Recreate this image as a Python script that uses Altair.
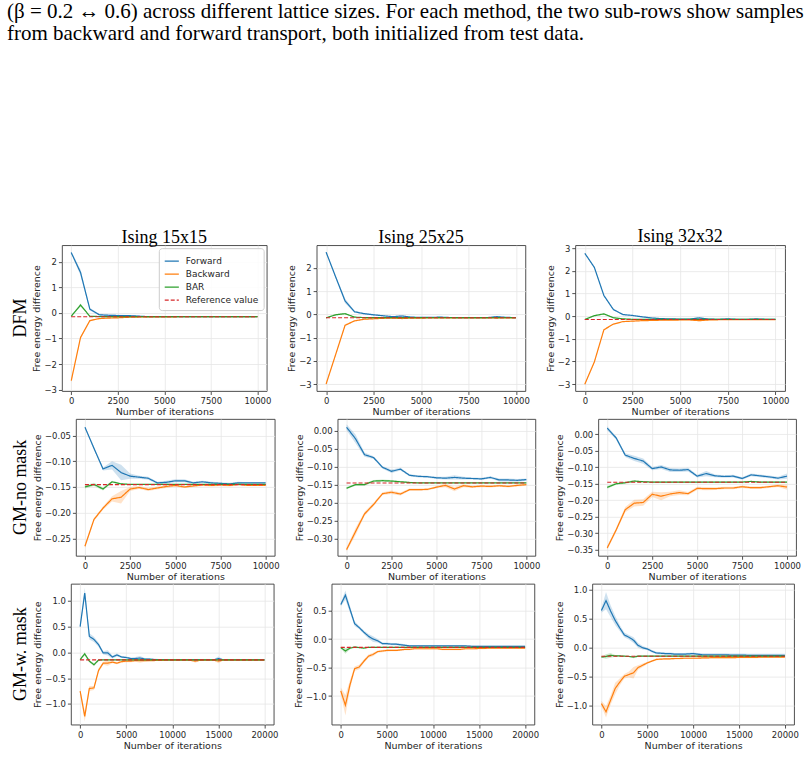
import altair as alt
import pandas as pd

# ---------------------------------------------------------------- data
iters_10k = list(range(0, 10001, 500))
iters_20k = list(range(0, 20001, 500))
reference_value = -0.1455

series_names = ["Forward", "Backward", "BAR", "Reference value"]
series_colors = ["#1f77b4", "#ff7f0e", "#2ca02c", "#d62728"]
series_dash = [[1, 0], [1, 0], [1, 0], [4, 2]]

column_titles = ["Ising 15x15", "Ising 25x25", "Ising 32x32"]
row_titles = ["DFM", "GM-no mask", "GM-w. mask"]

caption_lines = [
    "(\u03b2 = 0.2 \u2194 0.6) across different lattice sizes. For each method, the two sub-rows show samples",
    "from backward and forward transport, both initialized from test data.",
]

# DFM, Ising 15x15
dfm15_fwd = [2.36, 1.58, 0.15, -0.07, -0.09, -0.10, -0.10, -0.12, -0.14, -0.14, -0.14,
             -0.14, -0.145, -0.145, -0.145, -0.145, -0.145, -0.145, -0.145, -0.145, -0.145]
dfm15_fwd_sd = [0.04, 0.12, 0.05, 0.03, 0.03, 0.03, 0.02, 0.02, 0.01, 0.01, 0.01,
                0.01, 0.01, 0.01, 0.01, 0.01, 0.01, 0.01, 0.01, 0.01, 0.01]
dfm15_bwd = [-2.65, -0.96, -0.30, -0.22, -0.20, -0.19, -0.17, -0.16, -0.155, -0.15, -0.15,
             -0.15, -0.148, -0.147, -0.146, -0.146, -0.146, -0.146, -0.145, -0.145, -0.145]
dfm15_bwd_sd = [0.08, 0.05, 0.03, 0.02, 0.02, 0.02, 0.01, 0.01, 0.01, 0.01, 0.01,
                0.01, 0.01, 0.01, 0.01, 0.01, 0.01, 0.01, 0.01, 0.01, 0.01]
dfm15_bar = [-0.13, 0.31, -0.13, -0.14, -0.145, -0.145, -0.145, -0.145, -0.145, -0.145, -0.145,
             -0.145, -0.145, -0.145, -0.145, -0.145, -0.145, -0.145, -0.145, -0.145, -0.145]
dfm15_bar_sd = [0.03, 0.06, 0.02, 0.01, 0.01, 0.01, 0.01, 0.01, 0.01, 0.01, 0.01,
                0.01, 0.01, 0.01, 0.01, 0.01, 0.01, 0.01, 0.01, 0.01, 0.01]

# DFM, Ising 25x25
dfm25_fwd = [2.68, 1.62, 0.58, 0.11, 0.03, -0.02, -0.06, -0.10, -0.07, -0.12, -0.13,
             -0.13, -0.12, -0.135, -0.14, -0.14, -0.14, -0.14, -0.10, -0.13, -0.14]
dfm25_fwd_sd = [0.03, 0.05, 0.10, 0.04, 0.03, 0.03, 0.02, 0.02, 0.03, 0.02, 0.01,
                0.01, 0.02, 0.01, 0.01, 0.01, 0.01, 0.01, 0.03, 0.01, 0.01]
dfm25_bwd = [-3.00, -1.74, -0.47, -0.28, -0.21, -0.19, -0.17, -0.16, -0.18, -0.16, -0.16,
             -0.155, -0.15, -0.15, -0.15, -0.15, -0.15, -0.15, -0.16, -0.15, -0.15]
dfm25_bwd_sd = [0.05, 0.04, 0.04, 0.03, 0.02, 0.02, 0.02, 0.01, 0.02, 0.01, 0.01,
                0.01, 0.01, 0.01, 0.01, 0.01, 0.01, 0.01, 0.01, 0.01, 0.01]
dfm25_bar = [-0.15, -0.02, 0.03, -0.12, -0.14, -0.145, -0.145, -0.145, -0.145, -0.145, -0.145,
             -0.145, -0.145, -0.145, -0.145, -0.145, -0.145, -0.145, -0.145, -0.145, -0.145]
dfm25_bar_sd = [0.02, 0.03, 0.03, 0.02, 0.01, 0.01, 0.01, 0.01, 0.01, 0.01, 0.01,
                0.01, 0.01, 0.01, 0.01, 0.01, 0.01, 0.01, 0.01, 0.01, 0.01]

# DFM, Ising 32x32
dfm32_fwd = [2.77, 2.15, 0.91, 0.29, 0.07, 0.03, -0.03, -0.08, -0.11, -0.12, -0.13,
             -0.13, -0.08, -0.13, -0.14, -0.12, -0.14, -0.14, -0.12, -0.14, -0.14]
dfm32_fwd_sd = [0.03, 0.04, 0.04, 0.03, 0.02, 0.02, 0.02, 0.02, 0.02, 0.02, 0.01,
                0.01, 0.04, 0.01, 0.01, 0.02, 0.01, 0.01, 0.02, 0.01, 0.01]
dfm32_bwd = [-3.00, -2.02, -0.60, -0.35, -0.24, -0.22, -0.20, -0.19, -0.18, -0.18, -0.17,
             -0.17, -0.20, -0.17, -0.16, -0.16, -0.16, -0.16, -0.16, -0.16, -0.16]
dfm32_bwd_sd = [0.04, 0.04, 0.03, 0.02, 0.02, 0.02, 0.01, 0.01, 0.01, 0.01, 0.01,
                0.01, 0.02, 0.01, 0.01, 0.01, 0.01, 0.01, 0.01, 0.01, 0.01]
dfm32_bar = [-0.15, 0.02, 0.10, -0.07, -0.12, -0.14, -0.145, -0.145, -0.145, -0.145, -0.145,
             -0.145, -0.145, -0.145, -0.145, -0.145, -0.145, -0.145, -0.145, -0.145, -0.145]
dfm32_bar_sd = [0.02, 0.03, 0.03, 0.02, 0.01, 0.01, 0.01, 0.01, 0.01, 0.01, 0.01,
                0.01, 0.01, 0.01, 0.01, 0.01, 0.01, 0.01, 0.01, 0.01, 0.01]

# GM-no mask, Ising 15x15
gmn15_fwd = [-0.034, -0.075, -0.115, -0.108, -0.122, -0.129, -0.131, -0.133, -0.142, -0.141, -0.138,
             -0.138, -0.142, -0.140, -0.142, -0.143, -0.144, -0.142, -0.142, -0.142, -0.142]
gmn15_fwd_sd = [0.002, 0.003, 0.003, 0.008, 0.015, 0.005, 0.003, 0.003, 0.002, 0.003, 0.003,
                0.003, 0.002, 0.002, 0.002, 0.002, 0.002, 0.002, 0.001, 0.001, 0.001]
gmn15_bwd = [-0.265, -0.213, -0.191, -0.173, -0.170, -0.154, -0.151, -0.155, -0.152, -0.149, -0.147,
             -0.150, -0.148, -0.146, -0.147, -0.146, -0.147, -0.145, -0.147, -0.147, -0.147]
gmn15_bwd_sd = [0.004, 0.003, 0.003, 0.005, 0.012, 0.004, 0.003, 0.003, 0.003, 0.003, 0.002,
                0.002, 0.002, 0.002, 0.002, 0.002, 0.002, 0.002, 0.001, 0.001, 0.001]
gmn15_bar = [-0.150, -0.145, -0.154, -0.140, -0.144, -0.145, -0.145, -0.145, -0.145, -0.145, -0.145,
             -0.145, -0.145, -0.145, -0.145, -0.145, -0.145, -0.145, -0.145, -0.145, -0.145]
gmn15_bar_sd = [0.003, 0.003, 0.003, 0.002, 0.001, 0.001, 0.001, 0.001, 0.001, 0.001, 0.001,
                0.001, 0.001, 0.001, 0.001, 0.001, 0.001, 0.001, 0.001, 0.001, 0.001]

# GM-no mask, Ising 25x25
gmn25_fwd = [0.009, -0.023, -0.067, -0.075, -0.102, -0.113, -0.107, -0.124, -0.127, -0.128, -0.131,
             -0.132, -0.130, -0.132, -0.133, -0.134, -0.130, -0.137, -0.137, -0.138, -0.136]
gmn25_fwd_sd = [0.008, 0.012, 0.006, 0.004, 0.004, 0.005, 0.004, 0.003, 0.003, 0.003, 0.003,
                0.004, 0.006, 0.004, 0.003, 0.003, 0.003, 0.004, 0.004, 0.004, 0.003]
gmn25_bwd = [-0.330, -0.280, -0.231, -0.205, -0.175, -0.171, -0.176, -0.164, -0.164, -0.163, -0.157,
             -0.152, -0.162, -0.153, -0.156, -0.154, -0.155, -0.153, -0.155, -0.152, -0.150]
gmn25_bwd_sd = [0.005, 0.010, 0.006, 0.005, 0.004, 0.005, 0.004, 0.003, 0.003, 0.003, 0.003,
                0.005, 0.006, 0.004, 0.003, 0.003, 0.003, 0.003, 0.003, 0.003, 0.003]
gmn25_bar = [-0.160, -0.150, -0.150, -0.140, -0.139, -0.140, -0.142, -0.144, -0.145, -0.145, -0.145,
             -0.145, -0.145, -0.145, -0.145, -0.145, -0.145, -0.145, -0.145, -0.145, -0.145]
gmn25_bar_sd = [0.003, 0.003, 0.003, 0.003, 0.003, 0.003, 0.002, 0.002, 0.001, 0.001, 0.001,
                0.001, 0.001, 0.001, 0.001, 0.001, 0.001, 0.001, 0.001, 0.001, 0.001]

# GM-no mask, Ising 32x32
gmn32_fwd = [0.019, -0.011, -0.063, -0.073, -0.081, -0.104, -0.099, -0.108, -0.109, -0.107, -0.127,
             -0.119, -0.126, -0.128, -0.127, -0.134, -0.123, -0.126, -0.129, -0.133, -0.127]
gmn32_fwd_sd = [0.006, 0.005, 0.006, 0.008, 0.008, 0.005, 0.006, 0.006, 0.005, 0.006, 0.004,
                0.008, 0.004, 0.004, 0.004, 0.004, 0.004, 0.004, 0.004, 0.004, 0.008]
gmn32_bwd = [-0.345, -0.290, -0.229, -0.209, -0.207, -0.182, -0.188, -0.181, -0.177, -0.180, -0.164,
             -0.165, -0.165, -0.163, -0.163, -0.159, -0.162, -0.162, -0.159, -0.156, -0.160]
gmn32_bwd_sd = [0.006, 0.006, 0.008, 0.010, 0.010, 0.008, 0.012, 0.007, 0.007, 0.005, 0.005,
                0.005, 0.004, 0.004, 0.004, 0.004, 0.004, 0.004, 0.004, 0.004, 0.008]
gmn32_bar = [-0.161, -0.150, -0.147, -0.142, -0.144, -0.145, -0.145, -0.145, -0.145, -0.145, -0.145,
             -0.145, -0.145, -0.145, -0.145, -0.145, -0.143, -0.145, -0.145, -0.145, -0.145]
gmn32_bar_sd = [0.004, 0.003, 0.003, 0.003, 0.002, 0.002, 0.002, 0.002, 0.002, 0.002, 0.002,
                0.002, 0.002, 0.002, 0.002, 0.002, 0.002, 0.002, 0.002, 0.002, 0.002]

# GM-w. mask, Ising 15x15
gmw15_fwd = [0.50, 1.15, 0.31, 0.25, 0.15, -0.01, -0.01, -0.09, -0.05, -0.09, -0.10,
             -0.12, -0.12, -0.11, -0.13, -0.13, -0.14, -0.14, -0.14, -0.145, -0.145,
             -0.145, -0.145, -0.145, -0.145, -0.145, -0.145, -0.145, -0.145, -0.145, -0.12,
             -0.145, -0.145, -0.145, -0.145, -0.145, -0.145, -0.145, -0.145, -0.145, -0.145]
gmw15_fwd_sd = [0.03, 0.10, 0.06, 0.05, 0.04, 0.03, 0.05, 0.03, 0.03, 0.02, 0.02,
                0.02, 0.03, 0.04, 0.02, 0.02, 0.02, 0.01, 0.01, 0.01, 0.01,
                0.01, 0.01, 0.01, 0.01, 0.01, 0.01, 0.01, 0.01, 0.01, 0.04,
                0.01, 0.01, 0.01, 0.01, 0.01, 0.01, 0.01, 0.01, 0.01, 0.01]
gmw15_bwd = [-0.75, -1.24, -0.70, -0.69, -0.35, -0.21, -0.21, -0.19, -0.21, -0.18, -0.17,
             -0.17, -0.16, -0.16, -0.16, -0.16, -0.16, -0.155, -0.155, -0.15, -0.15,
             -0.15, -0.15, -0.15, -0.155, -0.17, -0.155, -0.15, -0.15, -0.15, -0.17,
             -0.15, -0.15, -0.15, -0.15, -0.15, -0.15, -0.15, -0.15, -0.15, -0.15]
gmw15_bwd_sd = [0.04, 0.10, 0.05, 0.04, 0.04, 0.03, 0.05, 0.02, 0.02, 0.02, 0.02,
                0.02, 0.02, 0.04, 0.02, 0.01, 0.01, 0.01, 0.01, 0.01, 0.01,
                0.01, 0.01, 0.01, 0.01, 0.03, 0.01, 0.01, 0.01, 0.01, 0.04,
                0.01, 0.01, 0.01, 0.01, 0.01, 0.01, 0.01, 0.01, 0.01, 0.01]
gmw15_bar = [-0.14, -0.03, -0.17, -0.24, -0.15, -0.145, -0.145, -0.145, -0.145, -0.145, -0.145,
             -0.145, -0.145, -0.145, -0.145, -0.145, -0.145, -0.145, -0.145, -0.145, -0.145,
             -0.145, -0.145, -0.145, -0.145, -0.145, -0.145, -0.145, -0.145, -0.145, -0.145,
             -0.145, -0.145, -0.145, -0.145, -0.145, -0.145, -0.145, -0.145, -0.145, -0.145]
gmw15_bar_sd = [0.02, 0.03, 0.02, 0.03, 0.02, 0.01, 0.01, 0.01, 0.01, 0.01, 0.01,
                0.01, 0.01, 0.01, 0.01, 0.01, 0.01, 0.01, 0.01, 0.01, 0.01,
                0.01, 0.01, 0.01, 0.01, 0.01, 0.01, 0.01, 0.01, 0.01, 0.01,
                0.01, 0.01, 0.01, 0.01, 0.01, 0.01, 0.01, 0.01, 0.01, 0.01]

# GM-w. mask, Ising 25x25
gmw25_fwd = [0.605, 0.77, 0.52, 0.27, 0.20, 0.12, 0.05, 0.00, -0.03, -0.08, -0.08,
             -0.09, -0.09, -0.10, -0.11, -0.12, -0.12, -0.12, -0.12, -0.12, -0.12,
             -0.12, -0.12, -0.12, -0.12, -0.12, -0.12, -0.12, -0.125, -0.13, -0.13,
             -0.13, -0.13, -0.13, -0.13, -0.13, -0.13, -0.13, -0.13, -0.13, -0.13]
gmw25_fwd_sd = [0.03, 0.08, 0.06, 0.04, 0.03, 0.03, 0.04, 0.05, 0.03, 0.02, 0.02,
                0.02, 0.02, 0.02, 0.015, 0.015, 0.015, 0.015, 0.015, 0.015, 0.015,
                0.015, 0.015, 0.015, 0.015, 0.015, 0.015, 0.015, 0.015, 0.015, 0.015,
                0.015, 0.015, 0.015, 0.015, 0.015, 0.015, 0.015, 0.015, 0.015, 0.015]
gmw25_bwd = [-0.91, -1.16, -0.80, -0.52, -0.49, -0.39, -0.30, -0.27, -0.22, -0.21, -0.20,
             -0.20, -0.20, -0.19, -0.18, -0.18, -0.17, -0.17, -0.17, -0.17, -0.17,
             -0.17, -0.18, -0.18, -0.18, -0.18, -0.18, -0.17, -0.17, -0.17, -0.165,
             -0.165, -0.16, -0.16, -0.16, -0.16, -0.16, -0.16, -0.16, -0.16, -0.16]
gmw25_bwd_sd = [0.06, 0.18, 0.08, 0.04, 0.04, 0.03, 0.03, 0.03, 0.02, 0.02, 0.02,
                0.015, 0.015, 0.015, 0.015, 0.015, 0.015, 0.015, 0.015, 0.015, 0.015,
                0.015, 0.015, 0.015, 0.015, 0.015, 0.015, 0.015, 0.015, 0.015, 0.015,
                0.015, 0.015, 0.015, 0.015, 0.015, 0.015, 0.015, 0.015, 0.015, 0.015]
gmw25_bar = [-0.15, -0.21, -0.16, -0.14, -0.15, -0.16, -0.145, -0.145, -0.145, -0.145, -0.145,
             -0.145, -0.145, -0.145, -0.145, -0.145, -0.145, -0.145, -0.145, -0.145, -0.145,
             -0.145, -0.145, -0.145, -0.145, -0.145, -0.145, -0.145, -0.145, -0.145, -0.145,
             -0.145, -0.145, -0.145, -0.145, -0.145, -0.145, -0.145, -0.145, -0.145, -0.145]
gmw25_bar_sd = [0.015, 0.05, 0.02, 0.015, 0.01, 0.01, 0.01, 0.01, 0.01, 0.01, 0.01,
                0.01, 0.01, 0.01, 0.01, 0.01, 0.01, 0.01, 0.01, 0.01, 0.01,
                0.01, 0.01, 0.01, 0.01, 0.01, 0.01, 0.01, 0.01, 0.01, 0.01,
                0.01, 0.01, 0.01, 0.01, 0.01, 0.01, 0.01, 0.01, 0.01, 0.01]

# GM-w. mask, Ising 32x32
gmw32_fwd = [0.64, 0.81, 0.63, 0.47, 0.34, 0.22, 0.18, 0.13, 0.04, 0.00, -0.02,
             -0.06, -0.09, -0.095, -0.10, -0.10, -0.11, -0.11, -0.11, -0.105, -0.10,
             -0.11, -0.12, -0.12, -0.12, -0.12, -0.12, -0.12, -0.125, -0.125, -0.125,
             -0.125, -0.13, -0.13, -0.13, -0.13, -0.13, -0.13, -0.13, -0.13, -0.13]
gmw32_fwd_sd = [0.04, 0.15, 0.10, 0.08, 0.05, 0.04, 0.04, 0.05, 0.04, 0.03, 0.02,
                0.02, 0.02, 0.02, 0.02, 0.02, 0.02, 0.02, 0.02, 0.02, 0.02,
                0.02, 0.025, 0.025, 0.025, 0.025, 0.025, 0.025, 0.025, 0.025, 0.025,
                0.025, 0.025, 0.025, 0.025, 0.025, 0.025, 0.025, 0.025, 0.025, 0.025]
gmw32_bwd = [-0.96, -1.10, -0.90, -0.70, -0.59, -0.49, -0.46, -0.43, -0.34, -0.30, -0.26,
             -0.23, -0.20, -0.195, -0.19, -0.19, -0.185, -0.185, -0.18, -0.18, -0.18,
             -0.18, -0.175, -0.175, -0.17, -0.17, -0.17, -0.17, -0.17, -0.17, -0.165,
             -0.165, -0.165, -0.165, -0.165, -0.16, -0.16, -0.16, -0.16, -0.16, -0.16]
gmw32_bwd_sd = [0.05, 0.10, 0.08, 0.10, 0.06, 0.04, 0.05, 0.10, 0.04, 0.03, 0.02,
                0.015, 0.015, 0.015, 0.015, 0.015, 0.015, 0.015, 0.015, 0.015, 0.015,
                0.015, 0.015, 0.015, 0.015, 0.015, 0.015, 0.015, 0.015, 0.015, 0.015,
                0.015, 0.015, 0.015, 0.015, 0.015, 0.015, 0.015, 0.015, 0.015, 0.015]
gmw32_bar = [-0.16, -0.15, -0.13, -0.14, -0.14, -0.145, -0.15, -0.16, -0.145, -0.145, -0.145,
             -0.145, -0.145, -0.145, -0.145, -0.145, -0.145, -0.145, -0.145, -0.145, -0.145,
             -0.145, -0.145, -0.145, -0.145, -0.145, -0.145, -0.145, -0.145, -0.145, -0.145,
             -0.145, -0.145, -0.145, -0.145, -0.145, -0.145, -0.145, -0.145, -0.145, -0.145]
gmw32_bar_sd = [0.01, 0.04, 0.04, 0.015, 0.01, 0.01, 0.01, 0.02, 0.01, 0.01, 0.01,
                0.01, 0.01, 0.01, 0.01, 0.01, 0.01, 0.01, 0.01, 0.01, 0.01,
                0.01, 0.01, 0.01, 0.01, 0.01, 0.01, 0.01, 0.01, 0.01, 0.01,
                0.01, 0.01, 0.01, 0.01, 0.01, 0.01, 0.01, 0.01, 0.01, 0.01]

# ---------------------------------------------------------------- styling
FONT = "DejaVu Sans"
SERIF = "Liberation Serif"
TEXT = "#262626"

color_scale = alt.Scale(domain=series_names, range=series_colors)
fill_scale = alt.Scale(domain=series_names[:3], range=series_colors[:3])
dash_scale = alt.Scale(domain=series_names, range=series_dash)

legend_box = alt.Legend(
    title=None, orient="top-right", offset=3, padding=5,
    fillColor="rgba(255,255,255,0.85)", strokeColor="#cccccc", cornerRadius=3,
    symbolType="stroke", symbolSize=200, symbolStrokeWidth=1.3,
    labelFont=FONT, labelFontSize=9, labelColor=TEXT, labelOffset=6,
    rowPadding=0,
)

INDEPENDENT = dict(x="independent", y="independent", color="independent",
                   strokeDash="independent", fill="independent")


def panel(iters, fwd, fwd_sd, bwd, bwd_sd, bar, bar_sd,
          y_domain, y_ticks, y_fmt, x_domain, x_ticks,
          width, height, title=None, legend=False):
    rows = []
    for name, mean, sd in (("Forward", fwd, fwd_sd),
                           ("Backward", bwd, bwd_sd),
                           ("BAR", bar, bar_sd)):
        assert len(mean) == len(iters) == len(sd)
        for it, m, s in zip(iters, mean, sd):
            rows.append({"iteration": it, "series": name, "value": m,
                         "lo": m - s, "hi": m + s})
    df = pd.DataFrame(rows)
    ref_df = pd.DataFrame({"iteration": [iters[0], iters[-1]],
                           "series": ["Reference value"] * 2,
                           "value": [reference_value] * 2})

    x = alt.X("iteration:Q",
              scale=alt.Scale(domain=x_domain, nice=False, zero=False),
              axis=alt.Axis(values=x_ticks, format="d", title="Number of iterations"))
    y_axis = alt.Axis(values=y_ticks, format=y_fmt, title="Free energy difference")
    y_scale = alt.Scale(domain=y_domain, nice=False, zero=False)

    lg = legend_box if legend else None

    band = alt.Chart(df).mark_area(opacity=0.22, clip=True).encode(
        x=x,
        y=alt.Y("lo:Q", scale=y_scale, axis=y_axis),
        y2="hi:Q",
        fill=alt.Fill("series:N", scale=fill_scale, legend=None),
    )
    lines = alt.Chart(df).mark_line(strokeWidth=1.2, clip=True).encode(
        x=x,
        y=alt.Y("value:Q", scale=y_scale, axis=y_axis),
        color=alt.Color("series:N", scale=color_scale, legend=lg),
        strokeDash=alt.StrokeDash("series:N", scale=dash_scale, legend=lg),
    )
    ref = alt.Chart(ref_df).mark_line(strokeWidth=1.1, clip=True).encode(
        x=x,
        y=alt.Y("value:Q", scale=y_scale, axis=y_axis),
        color=alt.Color("series:N", scale=color_scale, legend=lg),
        strokeDash=alt.StrokeDash("series:N", scale=dash_scale, legend=lg),
    )
    props = {"width": width, "height": height}
    if title:
        props["title"] = alt.TitleParams(title, font=SERIF, fontSize=18,
                                         fontWeight="normal", color="black", offset=-2)
    return alt.layer(band, lines, ref).properties(**props)


def row_label(text, height):
    # rotated method name, centred in a narrow frameless strip
    return (
        alt.Chart(pd.DataFrame({"label": [text]}))
        .mark_text(angle=270, font=SERIF, fontSize=18, color="black")
        .encode(text="label:N")
        .properties(width=16, height=height, view=alt.ViewBackground(stroke=None))
    )


x10_dom, x10_ticks = [-500, 10500], [0, 2500, 5000, 7500, 10000]
x20_dom, x20_ticks = [-1000, 21000], [0, 5000, 10000, 15000, 20000]

row_dfm = [
    panel(iters_10k, dfm15_fwd, dfm15_fwd_sd, dfm15_bwd, dfm15_bwd_sd, dfm15_bar, dfm15_bar_sd,
          [-3.05, 2.65], [-3, -2, -1, 0, 1, 2], "d", x10_dom, x10_ticks, 205, 146,
          title=column_titles[0], legend=True),
    panel(iters_10k, dfm25_fwd, dfm25_fwd_sd, dfm25_bwd, dfm25_bwd_sd, dfm25_bar, dfm25_bar_sd,
          [-3.3, 2.98], [-3, -2, -1, 0, 1, 2], "d", x10_dom, x10_ticks, 209, 146,
          title=column_titles[1]),
    panel(iters_10k, dfm32_fwd, dfm32_fwd_sd, dfm32_bwd, dfm32_bwd_sd, dfm32_bar, dfm32_bar_sd,
          [-3.3, 3.13], [-3, -2, -1, 0, 1, 2, 3], "d", x10_dom, x10_ticks, 210, 146,
          title=column_titles[2]),
]
row_gmn = [
    panel(iters_10k, gmn15_fwd, gmn15_fwd_sd, gmn15_bwd, gmn15_bwd_sd, gmn15_bar, gmn15_bar_sd,
          [-0.2835, -0.018], [-0.25, -0.20, -0.15, -0.10, -0.05], ".2f", x10_dom, x10_ticks, 199, 137),
    panel(iters_10k, gmn25_fwd, gmn25_fwd_sd, gmn25_bwd, gmn25_bwd_sd, gmn25_bar, gmn25_bar_sd,
          [-0.347, 0.032], [-0.35, -0.30, -0.25, -0.20, -0.15, -0.10, -0.05, 0.0], ".2f",
          x10_dom, x10_ticks, 198, 137),
    panel(iters_10k, gmn32_fwd, gmn32_fwd_sd, gmn32_bwd, gmn32_bwd_sd, gmn32_bar, gmn32_bar_sd,
          [-0.369, 0.047], [-0.35, -0.30, -0.25, -0.20, -0.15, -0.10, -0.05, 0.0], ".2f",
          x10_dom, x10_ticks, 198, 137),
]
row_gmw = [
    panel(iters_20k, gmw15_fwd, gmw15_fwd_sd, gmw15_bwd, gmw15_bwd_sd, gmw15_bar, gmw15_bar_sd,
          [-1.40, 1.33], [-1.0, -0.5, 0.0, 0.5, 1.0], ".1f", x20_dom, x20_ticks, 203, 141),
    panel(iters_20k, gmw25_fwd, gmw25_fwd_sd, gmw25_bwd, gmw25_bwd_sd, gmw25_bar, gmw25_bar_sd,
          [-1.50, 0.97], [-1.0, -0.5, 0.0, 0.5], ".1f", x20_dom, x20_ticks, 203, 141),
    panel(iters_20k, gmw32_fwd, gmw32_fwd_sd, gmw32_bwd, gmw32_bwd_sd, gmw32_bar, gmw32_bar_sd,
          [-1.32, 1.10], [-1.0, -0.5, 0.0, 0.5, 1.0], ".1f", x20_dom, x20_ticks, 202, 141),
]


def make_row(panels, label, height):
    lead = (
        alt.hconcat(row_label(label, height), panels[0], spacing=1)
        .resolve_scale(**INDEPENDENT)
        .resolve_legend(color="independent", strokeDash="independent")
    )
    return (
        alt.hconcat(lead, panels[1], panels[2], spacing=14)
        .resolve_scale(**INDEPENDENT)
        .resolve_legend(color="independent", strokeDash="independent")
    )


chart = (
    alt.vconcat(make_row(row_dfm, row_titles[0], 146),
                make_row(row_gmn, row_titles[1], 137),
                make_row(row_gmw, row_titles[2], 141),
                spacing=1)
    .resolve_scale(**INDEPENDENT)
    .resolve_legend(color="independent", strokeDash="independent")
    .properties(
        title=alt.TitleParams(caption_lines, anchor="start", font=SERIF, fontSize=21,
                              fontWeight="normal", color="black", lineHeight=22,
                              offset=184, dx=-5),
        padding={"left": 6, "top": 0, "right": 0, "bottom": 0},
        background="white",
    )
    .configure(font=FONT)
    .configure_view(stroke="#3c3c3c", strokeWidth=0.9)
    .configure_axis(
        labelFont=FONT, labelFontSize=8.5, labelColor=TEXT, labelPadding=2,
        titleFont=FONT, titleFontSize=9.5, titleFontWeight="normal", titleColor=TEXT,
        titlePadding=2, tickColor=TEXT, tickSize=3.5, tickWidth=0.8,
        domain=False, grid=True, gridColor="#e6e6e6", gridWidth=0.8,
    )
)

chart.save("out.html", embed_options={"renderer": "svg", "actions": False})
